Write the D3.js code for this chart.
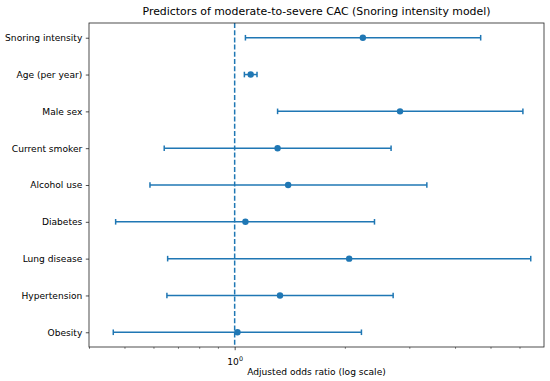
<!DOCTYPE html>
<html>
<head>
<meta charset="utf-8">
<script src="https://cdn.jsdelivr.net/npm/d3@7"></script>
<style>
body { margin: 0; background: white; }
text { font-family: "DejaVu Sans", sans-serif; fill: #000; }
</style>
</head>
<body>
<div id="divForChart"></div>
<script>
var predictors = ["Snoring intensity", "Age (per year)", "Male sex", "Current smoker", "Alcohol use",
                  "Diabetes", "Lung disease", "Hypertension", "Obesity"];
var oddsRatio = [2.24, 1.106, 2.83, 1.31, 1.40, 1.07, 2.055, 1.33, 1.018];
var ciLower = [1.07, 1.063, 1.31, 0.642, 0.587, 0.473, 0.656, 0.653, 0.466];
var ciUpper = [4.70, 1.151, 6.13, 2.675, 3.35, 2.41, 6.44, 2.71, 2.22];
var majorTicks = [1];
var minorTicks = [0.4, 0.5, 0.6, 0.7, 0.8, 0.9, 2, 3, 4, 5, 6];
var xLimits = [0.4, 7];

var chartWidth = 550;
var chartHeight = 381;
var plotLeft = 89;
var plotRight = 544;
var plotTop = 23;
var plotBottom = 347;
var mainColor = "#1f77b4";
var capHalf = 2.8;

var x = d3.scaleLog().domain(xLimits).range([plotLeft, plotRight]);
var y = d3.scalePoint().domain(predictors).range([plotTop, plotBottom]).padding(0.4);

var svg = d3.select("#divForChart").append("svg")
	.attr("width", chartWidth)
	.attr("height", chartHeight);

// reference line at OR = 1
svg.append("line")
	.attr("x1", x(1)).attr("x2", x(1))
	.attr("y1", plotTop).attr("y2", plotBottom)
	.attr("stroke", mainColor)
	.attr("stroke-width", 1.5)
	.attr("stroke-dasharray", "5,2.2");

var rows = svg.append("g").selectAll("g")
	.data(predictors)
	.enter().append("g");

rows.append("line")
	.attr("x1", function(d, i) { return x(ciLower[i]); })
	.attr("x2", function(d, i) { return x(ciUpper[i]); })
	.attr("y1", function(d) { return y(d); })
	.attr("y2", function(d) { return y(d); })
	.attr("stroke", mainColor)
	.attr("stroke-width", 1.5);

rows.append("line")
	.attr("x1", function(d, i) { return x(ciLower[i]); })
	.attr("x2", function(d, i) { return x(ciLower[i]); })
	.attr("y1", function(d) { return y(d) - capHalf; })
	.attr("y2", function(d) { return y(d) + capHalf; })
	.attr("stroke", mainColor)
	.attr("stroke-width", 1.5);

rows.append("line")
	.attr("x1", function(d, i) { return x(ciUpper[i]); })
	.attr("x2", function(d, i) { return x(ciUpper[i]); })
	.attr("y1", function(d) { return y(d) - capHalf; })
	.attr("y2", function(d) { return y(d) + capHalf; })
	.attr("stroke", mainColor)
	.attr("stroke-width", 1.5);

rows.append("circle")
	.attr("cx", function(d, i) { return x(oddsRatio[i]); })
	.attr("cy", function(d) { return y(d); })
	.attr("r", 3.2)
	.attr("fill", mainColor);

// axes
var yAxis = d3.axisLeft(y).tickSize(3.2).tickPadding(3.5);
var yG = svg.append("g")
	.attr("transform", "translate(" + plotLeft + ",0)")
	.call(yAxis);
yG.select(".domain").remove();
yG.selectAll("line").attr("stroke", "#222").attr("stroke-width", 0.8);
yG.selectAll("text").attr("font-size", "9.1px").attr("fill", "#000")
	.style("font-family", "DejaVu Sans");

var xMinor = d3.axisBottom(x).tickValues(minorTicks).tickSize(1.8).tickFormat("");
var xMinorG = svg.append("g")
	.attr("transform", "translate(0," + plotBottom + ")")
	.call(xMinor);
xMinorG.select(".domain").remove();
xMinorG.selectAll("line").attr("stroke", "#222").attr("stroke-width", 0.6);

var xMajor = d3.axisBottom(x).tickValues(majorTicks).tickSize(3.2).tickPadding(3.5).tickFormat("");
var xMajorG = svg.append("g")
	.attr("transform", "translate(0," + plotBottom + ")")
	.call(xMajor);
xMajorG.select(".domain").remove();
xMajorG.selectAll("line").attr("stroke", "#222").attr("stroke-width", 0.8);

var tickLabel = xMajorG.selectAll(".tick").append("text")
	.attr("y", 17.5)
	.attr("text-anchor", "middle")
	.attr("font-size", "9.1px")
	.attr("fill", "#000")
	.style("font-family", "DejaVu Sans");
tickLabel.append("tspan").text("10");
tickLabel.append("tspan").text(function(d) { return Math.round(Math.log10(d)); })
	.attr("font-size", "6.4px")
	.attr("dy", -4);

// frame
svg.append("rect")
	.attr("x", plotLeft).attr("y", plotTop)
	.attr("width", plotRight - plotLeft)
	.attr("height", plotBottom - plotTop)
	.attr("fill", "none")
	.attr("stroke", "#222")
	.attr("stroke-width", 0.8);

svg.append("text")
	.text("Adjusted odds ratio (log scale)")
	.attr("x", (plotLeft + plotRight) / 2)
	.attr("y", 375)
	.attr("text-anchor", "middle")
	.attr("font-size", "9.1px");

svg.append("text")
	.text("Predictors of moderate-to-severe CAC (Snoring intensity model)")
	.attr("x", (plotLeft + plotRight) / 2)
	.attr("y", 14.5)
	.attr("text-anchor", "middle")
	.attr("font-size", "10.9px");
</script>
</body>
</html>
